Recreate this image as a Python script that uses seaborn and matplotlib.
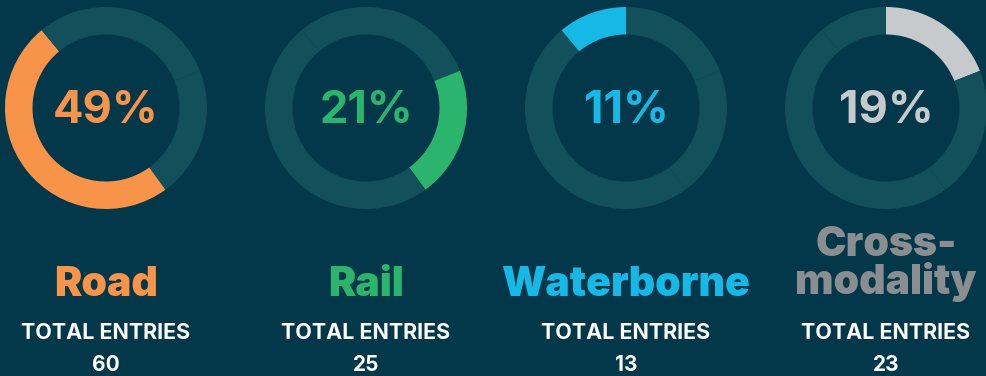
import matplotlib
matplotlib.use("Agg")
import matplotlib.pyplot as plt
import seaborn as sns

# Share of entries per transport mode (percent) and absolute entry counts
modes = ["Road", "Rail", "Waterborne", "Cross-\nmodality"]
shares = [49, 21, 11, 19]
entries = [60, 25, 13, 23]

# Order in which the modes are stacked around the ring, clockwise from the top
ring_order = ["Cross-\nmodality", "Rail", "Road", "Waterborne"]

arc_colors = ["#f7944a", "#2bb46c", "#16b9e6", "#c7cacc"]
pct_colors = ["#f7944a", "#2bb46c", "#16b9e6", "#c7cacc"]
name_colors = ["#f7944a", "#2bb46c", "#16b9e6", "#8b8e90"]

BG = "#03374a"
TRACK = "#12505b"

sns.set_theme(style="white", rc={"figure.facecolor": BG, "axes.facecolor": BG})
plt.rcParams["font.family"] = ["Inter", "DejaVu Sans"]

W, H = 986, 376
fig = plt.figure(figsize=(W / 100, H / 100), dpi=100)
fig.patch.set_facecolor(BG)

centers_x = [106, 366, 626, 886]
center_y = 108
radius = 101
ring_w = 27.5 / radius

share_of = dict(zip(modes, shares))
ring_vals = [share_of[m] for m in ring_order]


def fy(y_px):
    return 1 - y_px / H


for i, mode in enumerate(modes):
    cx = centers_x[i]
    ax = fig.add_axes([(cx - radius) / W, 1 - (center_y + radius) / H,
                       2 * radius / W, 2 * radius / H])
    ax.set_facecolor(BG)
    cols = [arc_colors[i] if m == mode else TRACK for m in ring_order]
    ax.pie(ring_vals, colors=cols, startangle=90, counterclock=False,
           radius=1.0, wedgeprops=dict(width=ring_w, linewidth=0))
    ax.set_xlim(-1, 1)
    ax.set_ylim(-1, 1)
    ax.set_aspect("equal")
    ax.axis("off")

    fig.text(cx / W, fy(123), f"{shares[i]}%", ha="center", va="baseline",
             fontsize=32.5, fontweight=700, color=pct_colors[i])

    # Mode name: single-line names sit a little lower than two-line ones
    lines = mode.split("\n")
    if len(lines) == 1:
        baselines = [296]
    else:
        baselines = [256, 294]
    for line, base in zip(lines, baselines):
        fig.text(cx / W, fy(base), line, ha="center", va="baseline",
                 fontsize=29.5, fontweight=900, color=name_colors[i])

    fig.text(cx / W, fy(339), "TOTAL ENTRIES", ha="center", va="baseline",
             fontsize=15.5, fontweight=700, color="white")
    fig.text(cx / W, fy(371), str(entries[i]), ha="center", va="baseline",
             fontsize=15, fontweight=700, color="white")

fig.savefig("out.png", dpi=100, facecolor=BG)
